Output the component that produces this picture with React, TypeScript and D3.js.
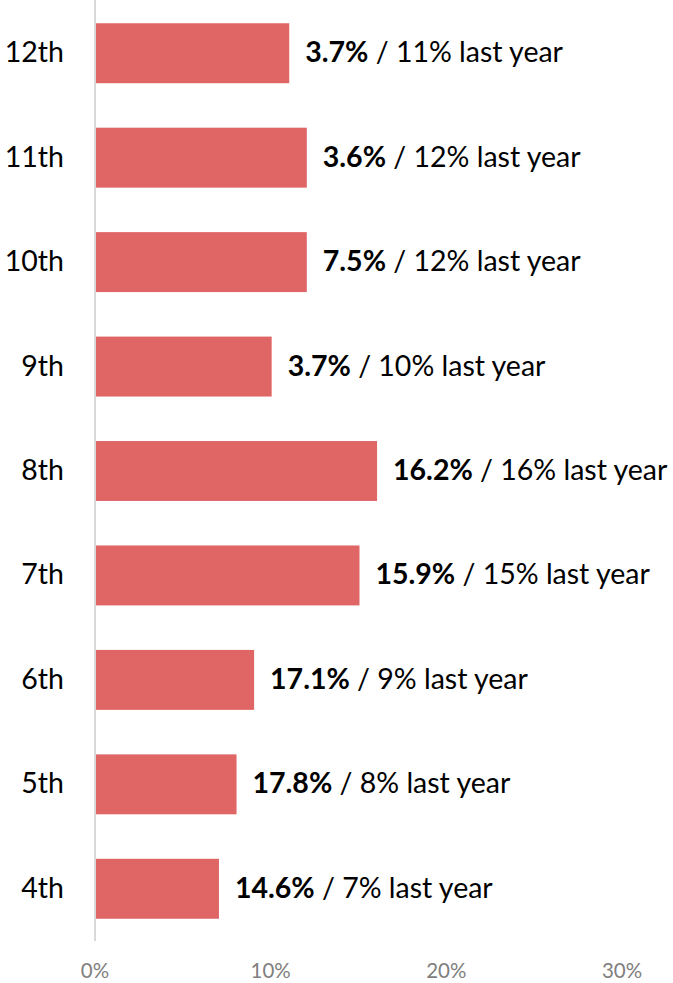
import React from "react";
import * as d3 from "d3";

const categories = ["12th", "11th", "10th", "9th", "8th", "7th", "6th", "5th", "4th"];
const lastYear = [11, 12, 12, 10, 16, 15, 9, 8, 7];
const thisYear = ["3.7%", "3.6%", "7.5%", "3.7%", "16.2%", "15.9%", "17.1%", "17.8%", "14.6%"];
const ticks = [0, 10, 20, 30];

const W = 673;
const H = 983;
const FONT = "Lato, 'Open Sans', sans-serif";

export default function App() {
  const x = d3.scaleLinear().domain([0, 30]).range([95, 622]);
  const y = d3.scaleBand<string>().domain(categories).range([1, 941]).paddingInner(0.426).paddingOuter(0.213);
  return (
    <svg width={W} height={H} style={{ position: "absolute", left: 0, top: 0, background: "#fff" }} fontFamily={FONT}>
      {categories.map((c, i) => {
        const yc = (y(c) as number) + y.bandwidth() / 2 - 2;
        return (
          <g key={c}>
            <rect x={x(0) + 1} y={y(c)} width={x(lastYear[i]) - x(0)} height={y.bandwidth()} fill="#e06666" />
            <text x={64} y={yc} textAnchor="end" dominantBaseline="central" fontSize={28.5} fill="#000">{c}</text>
            <text x={x(lastYear[i]) + 17} y={yc} dominantBaseline="central" fontSize={28.5} fill="#000">
              <tspan fontWeight="bold">{thisYear[i]}</tspan>
              <tspan>{` / ${lastYear[i]}% last year`}</tspan>
            </text>
          </g>
        );
      })}
      <line x1={x(0)} x2={x(0)} y1={0} y2={941} stroke="#d9d9d9" strokeWidth={2} />
      {ticks.map((t) => (
        <text key={t} x={x(t)} y={970} textAnchor="middle" dominantBaseline="central" fontSize={20.5} fill="#808080">{`${t}%`}</text>
      ))}
    </svg>
  );
}
